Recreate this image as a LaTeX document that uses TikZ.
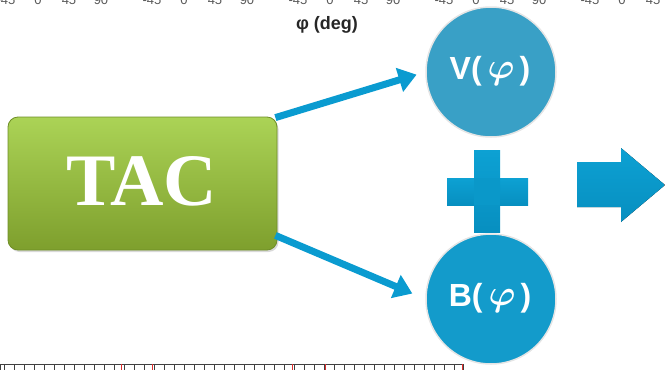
\documentclass[tikz,border=0pt]{standalone}
\usepackage{amsmath}
\usepackage{fontspec}
\setmainfont{Liberation Serif}
\setsansfont{Liberation Sans}
\usetikzlibrary{arrows.meta,shadows,calc}

\definecolor{tacTop}{HTML}{ABD356}
\definecolor{tacBot}{HTML}{7E9F2D}
\definecolor{tacEdge}{HTML}{6F8E27}
\definecolor{vFill}{HTML}{39A0C6}
\definecolor{bFill}{HTML}{139BCB}
\definecolor{flow}{HTML}{0A9BD0}
\definecolor{plusTop}{HTML}{0DA1D3}
\definecolor{plusBot}{HTML}{078FC0}
\definecolor{tickRed}{HTML}{E03030}

% curly phi set a little larger than the surrounding letters
\newcommand{\bigphi}{\raisebox{1pt}{\scalebox{1.45}{$\boldsymbol{\varphi}$}}}

\begin{document}
\begin{tikzpicture}[x=1pt,y=-1pt,
  tacbox/.style={rectangle, rounded corners=10pt, minimum width=269pt, minimum height=133pt,
    top color=tacTop, bottom color=tacBot, draw=tacEdge, line width=0.8pt,
    drop shadow={opacity=0.3, shadow xshift=1.5pt, shadow yshift=-2pt}},
  tactext/.style={text=white, font=\bfseries\fontsize{74}{74}\selectfont},
  term/.style={circle, minimum size=130pt, inner sep=0pt, draw=black!10, line width=1.5pt},
  termtext/.style={text=white, font=\sffamily\bfseries\fontsize{32}{32}\selectfont},
  conn/.style={draw=flow, line width=7pt, -{Triangle[length=18pt,width=24pt]}},
  bluefill/.style={top color=plusTop, bottom color=plusBot, draw=none},
  axislabel/.style={font=\sffamily\bfseries\fontsize{18}{18}\selectfont, text=black!85},
  ticklabel/.style={font=\sffamily\fontsize{13}{13}\selectfont, text=black!65, anchor=base, inner sep=0pt},
]
\useasboundingbox (0,0) rectangle (665,370);

% tick labels of the panel above, cut by the frame
\begin{scope}
  \clip (0,0) rectangle (665,370);
  \foreach \g [count=\i] in {38,184,330,476,622} {
    \node[ticklabel] (tm\i) at (\g-32,4) {-45};
    \node[ticklabel] (tz\i) at (\g,4) {0};
    \node[ticklabel] (tp\i) at (\g+31,4) {45};
    \node[ticklabel] (tn\i) at (\g+63,4) {90};
  }
\end{scope}

% axis title
\node[axislabel] (phiaxis) at (327,25) {φ (deg)};

% ruler strip of the panel below
\begin{scope}[line width=0.8pt, draw=black!75]
  \draw (0,364) rectangle (463,371);
  \foreach \x in {4,14,...,454} \draw (\x,364) -- (\x,371);
  \foreach \x in {121,152,292,325,462} \draw[tickRed] (\x,364) -- (\x,371);
\end{scope}

% source box
\node[tacbox] (tac) at (142.5,183.5) {};
\node[tactext] (tacl) at (142,181) {TAC};

% the two terms
\node[term, fill=vFill] (V) at (491,72) {};
\node[termtext] (Vl) at (490,71) {V(\hspace{6pt}\bigphi\hspace{5pt})};
\node[term, fill=bFill] (B) at (491,299) {};
\node[termtext] (Bl) at (490,298) {B(\hspace{6pt}\bigphi\hspace{5pt})};

% connectors
\draw[conn, shorten >=9pt] ($(tac.north east)+(-2,1)$) -- (V.west);
\draw[conn, shorten >=14pt] ($(tac.south east)+(-2,-15)$) -- (B.west);

% plus sign
\fill[bluefill] (447,178) rectangle (528,205);
\fill[bluefill] (474,150) rectangle (500,232);
\fill[plusTop!50!plusBot] (474,178) rectangle (500,205);

% result arrow
\fill[bluefill] (577,162) -- (621,162) -- (621,148) -- (665,185) -- (621,222) -- (621,207) -- (577,207) -- cycle;
\end{tikzpicture}
\end{document}
